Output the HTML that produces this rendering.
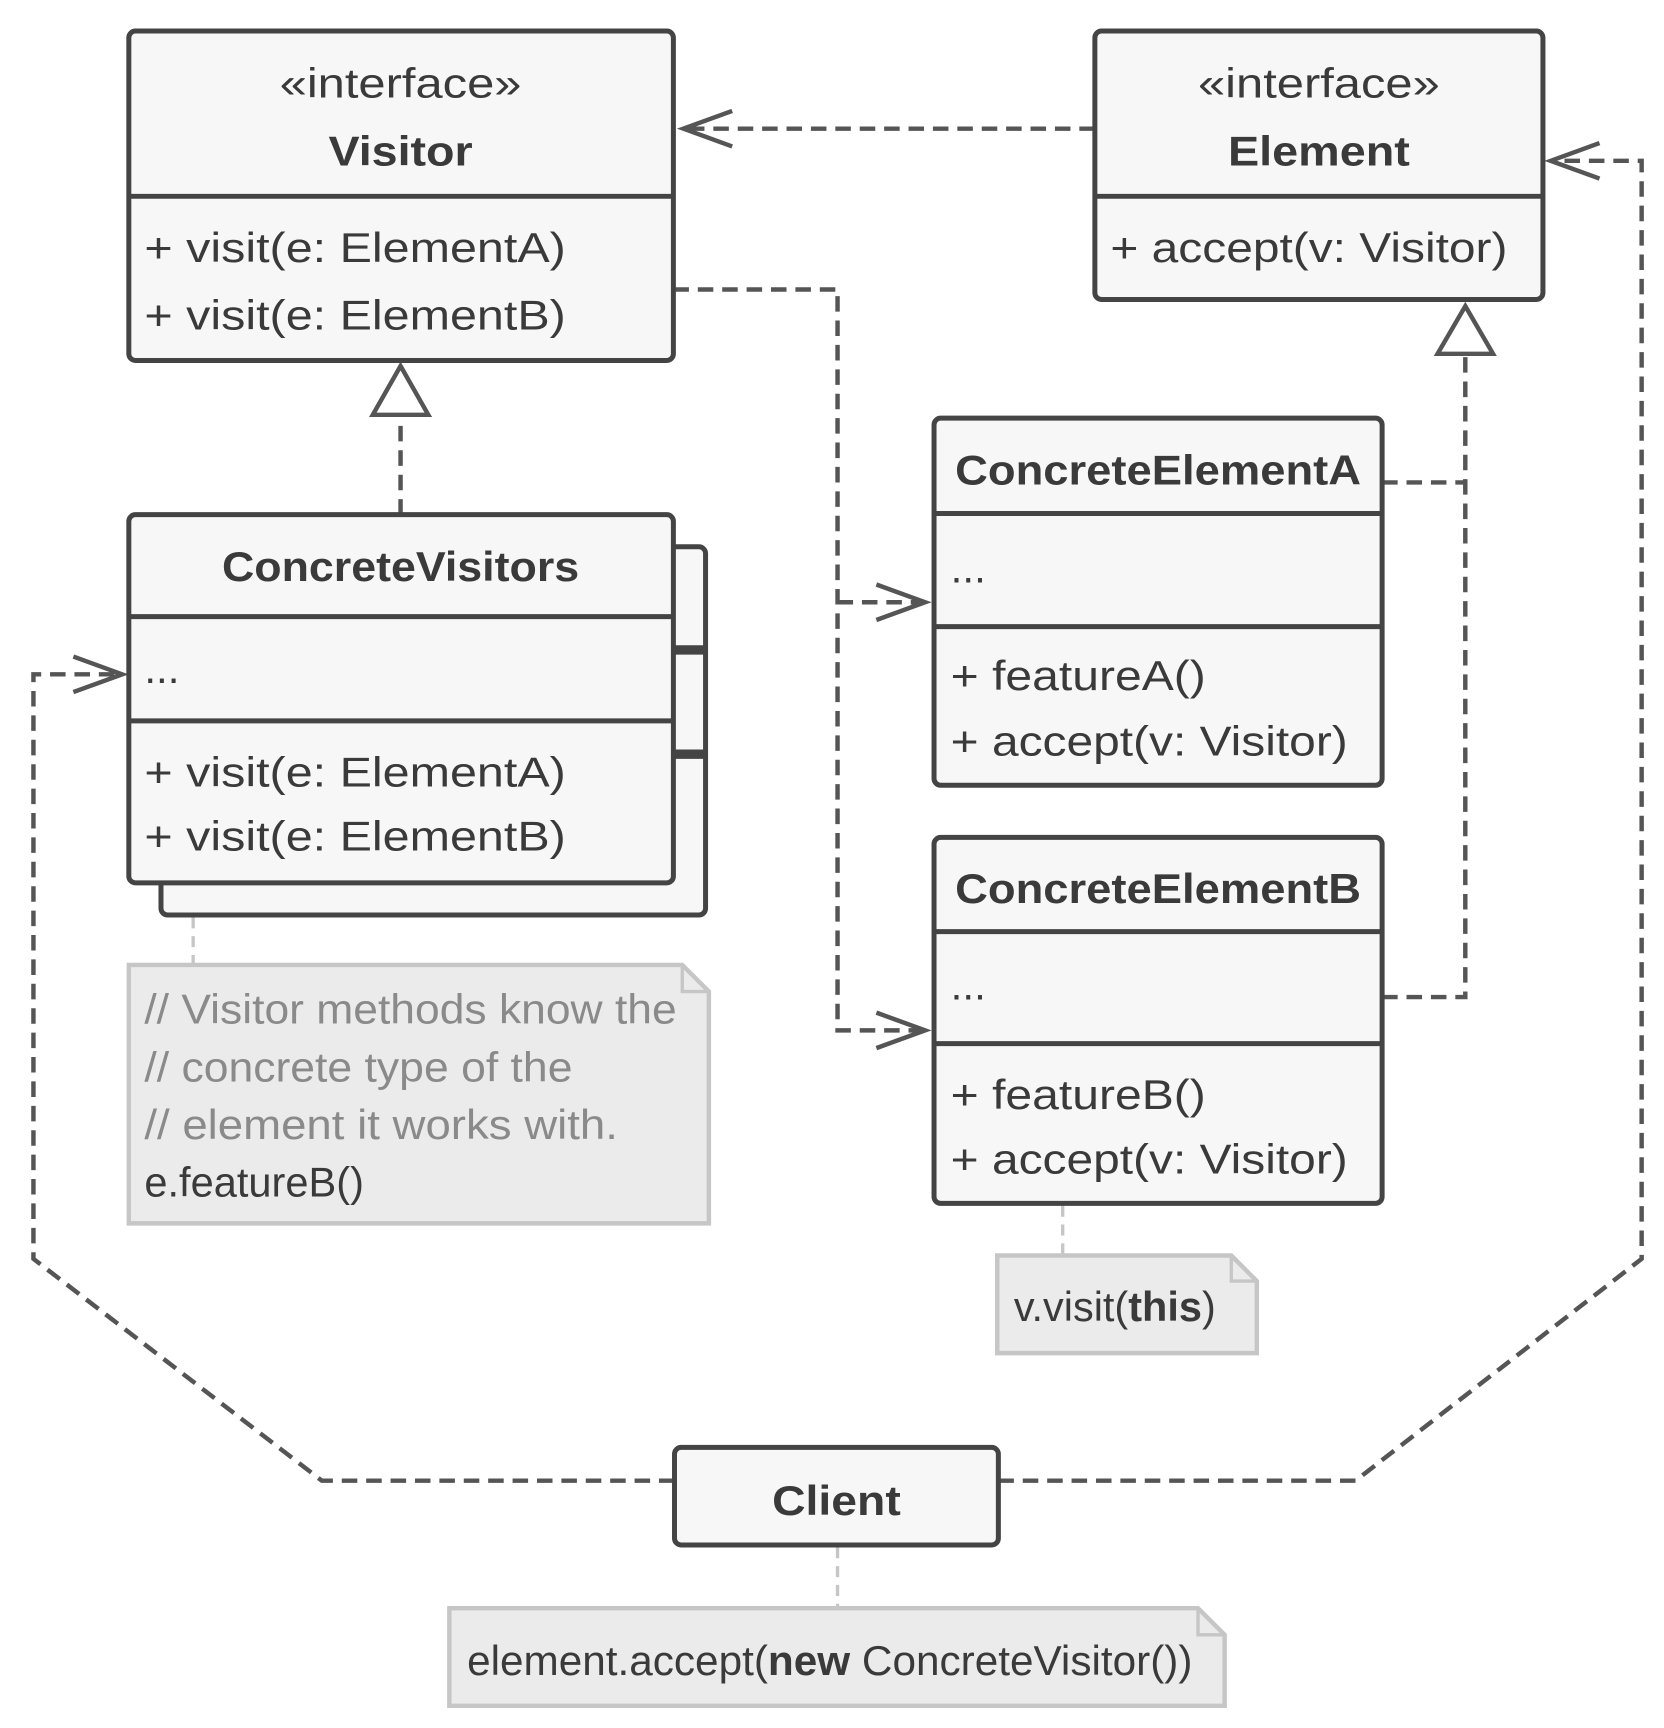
<!DOCTYPE html>
<html><head><meta charset="utf-8"><style>
html,body{margin:0;padding:0;background:#fff}
svg{display:block}
text{font-family:"Liberation Sans",sans-serif;fill:#3a3a3a}
.t{font-size:38px}
.b{font-size:38px;font-weight:bold}
.box{fill:#f7f7f7;stroke:#444;stroke-width:4.5}
.d{fill:none;stroke:#555;stroke-width:4;stroke-dasharray:14 8}
.ar{fill:none;stroke:#555;stroke-width:4}
.note{fill:#ebebeb;stroke:#c6c6c6;stroke-width:4}
.nl{fill:none;stroke:#c6c6c6;stroke-width:3;stroke-dasharray:10 7}
.g{fill:#8a8a8a}
</style></head><body>
<svg width="1664" height="1728" viewBox="0 0 1500 1558" xmlns="http://www.w3.org/2000/svg">
<!-- connectors -->
<path class="d" d="M987 116 H616"/>
<path class="ar" d="M660 100 L616 116 L660 132"/>
<path class="d" d="M607 261 H755 V929 H834 M755 543 H834"/>
<path class="ar" d="M790 527 L834 543 L790 559 M790 913 L834 929 L790 945"/>
<path class="d" d="M361 464 V376"/>
<path class="ar" d="M361 330 L386 374 L336 374 Z" style="fill:#fff"/>
<path class="d" d="M1246 435 H1321 M1246 899 H1321 V321"/>
<path class="ar" d="M1321 276 L1346 319 L1296 319 Z" style="fill:#fff"/>
<path class="d" d="M608 1335 H290 L30 1135 V608 H108"/>
<path class="ar" d="M66 592 L110 608 L66 624"/>
<path class="d" d="M900 1335 H1222 L1480 1135 V145 H1400"/>
<path class="ar" d="M1442 129 L1398 145 L1442 161"/>
<path class="nl" d="M174 810 V870 M958 1087 V1132 M755 1395 V1450"/>
<!-- Visitor -->
<rect class="box" x="116" y="28" width="491" height="297" rx="6"/>
<line x1="116" y1="177" x2="607" y2="177" stroke="#444" stroke-width="4.5"/>
<text class="t" x="361" y="88" text-anchor="middle" textLength="218" lengthAdjust="spacingAndGlyphs">«interface»</text>
<text class="b" x="361" y="149" text-anchor="middle" textLength="130" lengthAdjust="spacingAndGlyphs">Visitor</text>
<text class="t" x="130" y="236" textLength="380" lengthAdjust="spacingAndGlyphs">+ visit(e: ElementA)</text>
<text class="t" x="130" y="297" textLength="380" lengthAdjust="spacingAndGlyphs">+ visit(e: ElementB)</text>
<!-- Element -->
<rect class="box" x="987" y="28" width="404" height="242" rx="6"/>
<line x1="987" y1="177" x2="1391" y2="177" stroke="#444" stroke-width="4.5"/>
<text class="t" x="1189" y="88" text-anchor="middle" textLength="218" lengthAdjust="spacingAndGlyphs">«interface»</text>
<text class="b" x="1189" y="149" text-anchor="middle" textLength="164" lengthAdjust="spacingAndGlyphs">Element</text>
<text class="t" x="1001" y="236" textLength="358" lengthAdjust="spacingAndGlyphs">+ accept(v: Visitor)</text>
<!-- ConcreteVisitors -->
<rect class="box" x="145" y="493" width="491" height="332" rx="6"/>
<line x1="607" y1="584" x2="636" y2="584" stroke="#444" stroke-width="4.5"/>
<line x1="607" y1="588" x2="636" y2="588" stroke="#444" stroke-width="4.5"/>
<line x1="607" y1="678" x2="636" y2="678" stroke="#444" stroke-width="4.5"/>
<line x1="607" y1="682" x2="636" y2="682" stroke="#444" stroke-width="4.5"/>
<rect class="box" x="116" y="464" width="491" height="332" rx="6"/>
<line x1="116" y1="556" x2="607" y2="556" stroke="#444" stroke-width="4.5"/>
<line x1="116" y1="650" x2="607" y2="650" stroke="#444" stroke-width="4.5"/>
<text class="b" x="361" y="524" text-anchor="middle" textLength="322" lengthAdjust="spacingAndGlyphs">ConcreteVisitors</text>
<text class="t" x="130" y="616">...</text>
<text class="t" x="130" y="709" textLength="380" lengthAdjust="spacingAndGlyphs">+ visit(e: ElementA)</text>
<text class="t" x="130" y="767" textLength="380" lengthAdjust="spacingAndGlyphs">+ visit(e: ElementB)</text>
<!-- Note 1 -->
<path class="note" d="M116 870 H615 L639 894 V1103 H116 Z"/>
<path d="M615 870 V894 H639" fill="none" stroke="#c6c6c6" stroke-width="3"/>
<text class="t g" x="130" y="923" textLength="480" lengthAdjust="spacingAndGlyphs">// Visitor methods know the</text>
<text class="t g" x="130" y="975" textLength="386" lengthAdjust="spacingAndGlyphs">// concrete type of the</text>
<text class="t g" x="130" y="1027" textLength="427" lengthAdjust="spacingAndGlyphs">// element it works with.</text>
<text class="t" x="130" y="1079" textLength="198" lengthAdjust="spacingAndGlyphs">e.featureB()</text>
<!-- ConcreteElementA -->
<rect class="box" x="842" y="377" width="404" height="331" rx="6"/>
<line x1="842" y1="463" x2="1246" y2="463" stroke="#444" stroke-width="4.5"/>
<line x1="842" y1="565" x2="1246" y2="565" stroke="#444" stroke-width="4.5"/>
<text class="b" x="1044" y="437" text-anchor="middle" textLength="366" lengthAdjust="spacingAndGlyphs">ConcreteElementA</text>
<text class="t" x="857" y="525">...</text>
<text class="t" x="857" y="622" textLength="230" lengthAdjust="spacingAndGlyphs">+ featureA()</text>
<text class="t" x="857" y="681" textLength="358" lengthAdjust="spacingAndGlyphs">+ accept(v: Visitor)</text>
<!-- ConcreteElementB -->
<rect class="box" x="842" y="755" width="404" height="330" rx="6"/>
<line x1="842" y1="840" x2="1246" y2="840" stroke="#444" stroke-width="4.5"/>
<line x1="842" y1="941" x2="1246" y2="941" stroke="#444" stroke-width="4.5"/>
<text class="b" x="1044" y="814" text-anchor="middle" textLength="366" lengthAdjust="spacingAndGlyphs">ConcreteElementB</text>
<text class="t" x="857" y="901">...</text>
<text class="t" x="857" y="1000" textLength="230" lengthAdjust="spacingAndGlyphs">+ featureB()</text>
<text class="t" x="857" y="1058" textLength="358" lengthAdjust="spacingAndGlyphs">+ accept(v: Visitor)</text>
<!-- Note 2 -->
<path class="note" d="M899 1132 H1110 L1133 1155 V1220 H899 Z"/>
<path d="M1110 1132 V1155 H1133" fill="none" stroke="#c6c6c6" stroke-width="3"/>
<text class="t" x="914" y="1191" textLength="182" lengthAdjust="spacingAndGlyphs">v.visit(<tspan font-weight="bold">this</tspan>)</text>
<!-- Client -->
<rect class="box" x="608" y="1305" width="292" height="88" rx="6"/>
<text class="b" x="754" y="1366" text-anchor="middle" textLength="116" lengthAdjust="spacingAndGlyphs">Client</text>
<!-- Note 3 -->
<path class="note" d="M405 1450 H1080 L1104 1474 V1538 H405 Z"/>
<path d="M1080 1450 V1474 H1104" fill="none" stroke="#c6c6c6" stroke-width="3"/>
<text class="t" x="421" y="1510" textLength="654" lengthAdjust="spacingAndGlyphs">element.accept(<tspan font-weight="bold">new</tspan> ConcreteVisitor())</text>
</svg>
</body></html>
